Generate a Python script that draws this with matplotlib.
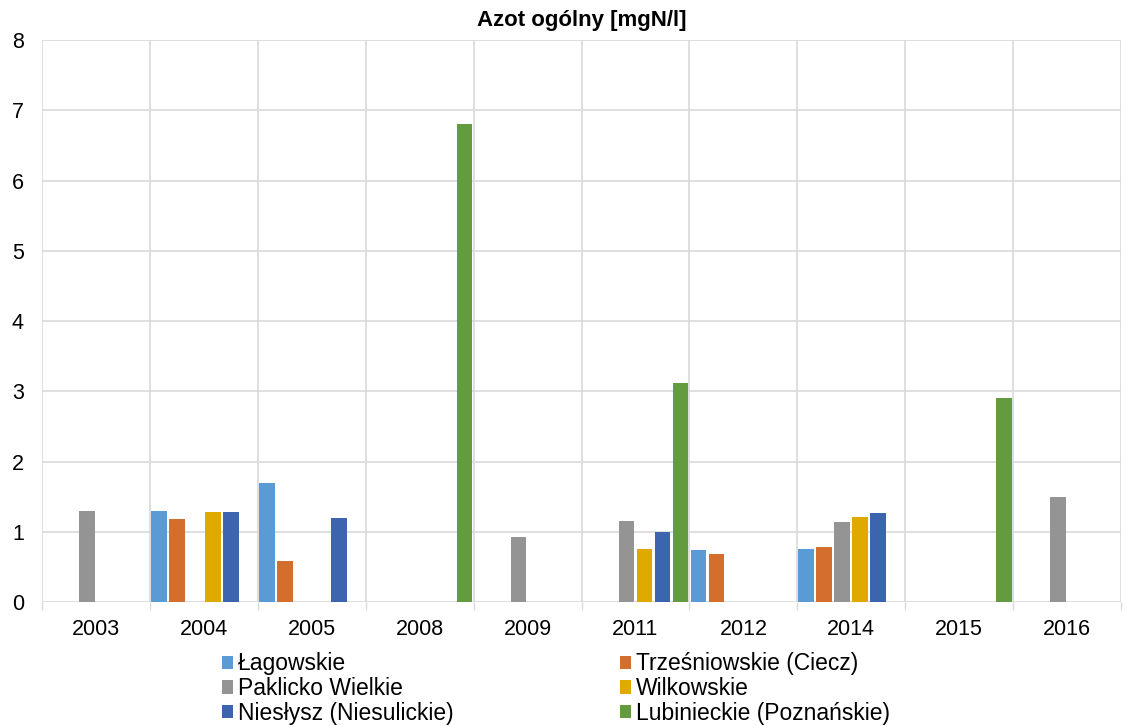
import numpy as np
import matplotlib.pyplot as plt

plt.rcParams['font.family'] = ['Liberation Sans', 'DejaVu Sans']

years = ['2003', '2004', '2005', '2008', '2009', '2011', '2012', '2014', '2015', '2016']
series_names = ['Łagowskie', 'Trześniowskie (Ciecz)', 'Paklicko Wielkie',
                'Wilkowskie', 'Niesłysz (Niesulickie)', 'Lubinieckie (Poznańskie)']

# NaN = no measurement
lagowskie = [np.nan, 1.30, 1.70, np.nan, np.nan, np.nan, 0.74, 0.75, np.nan, np.nan]
trzesniowskie = [np.nan, 1.18, 0.58, np.nan, np.nan, np.nan, 0.68, 0.79, np.nan, np.nan]
paklicko = [1.30, np.nan, np.nan, np.nan, 0.93, 1.16, np.nan, 1.14, np.nan, 1.49]
wilkowskie = [np.nan, 1.28, np.nan, np.nan, np.nan, 0.75, np.nan, 1.21, np.nan, np.nan]
nieslysz = [np.nan, 1.28, 1.19, np.nan, np.nan, 0.99, np.nan, 1.26, np.nan, np.nan]
lubinieckie = [np.nan, np.nan, np.nan, 6.80, np.nan, 3.12, np.nan, np.nan, 2.90, np.nan]

all_series = [lagowskie, trzesniowskie, paklicko, wilkowskie, nieslysz, lubinieckie]
colors = ['#5B9BD5', '#D36E2C', '#949494', '#E0A900', '#3D64AE', '#639B40']

fig = plt.figure(figsize=(11.27, 7.26), dpi=100)
ax = fig.add_axes([0.0373, 0.1708, 0.9574, 0.7741])

x = np.arange(len(years))
step = 1 / 6
handles = []
for i, (vals, name, col) in enumerate(zip(all_series, series_names, colors)):
    pos = x - 0.5 + (i + 0.5) * step
    b = ax.bar(pos, vals, width=0.145, color=col, label=name, zorder=3)
    handles.append(b)

ax.set_xlim(-0.5, len(years) - 0.5)
ax.set_ylim(0, 8)
ax.set_yticks(range(0, 9))
ax.set_xticks(x)
ax.set_xticklabels(years)
ax.set_xticks(np.arange(-0.5, len(years)), minor=True)

ax.tick_params(axis='both', which='major', length=0, labelsize=15.5)
ax.tick_params(axis='x', which='major', pad=12)
ax.tick_params(axis='y', which='major', pad=13)
ax.tick_params(axis='x', which='minor', length=6, color='#D9D9D9', width=1)
ax.grid(axis='y', which='major', color='#D9D9D9', linewidth=1.2, zorder=0)
ax.grid(axis='x', which='minor', color='#D9D9D9', linewidth=1.2, zorder=0)
for s in ax.spines.values():
    s.set_visible(False)

ax.set_title('Azot ogólny [mgN/l]', fontsize=16, fontweight='bold', pad=10)

# row-major legend order, as in the original
order = [0, 2, 4, 1, 3, 5]
ax.legend([handles[k] for k in order], [series_names[k] for k in order],
          loc='upper center', bbox_to_anchor=(0.476, -0.061), ncol=2, frameon=False,
          fontsize=16.5, handlelength=0.5, handleheight=0.5, handletextpad=0.2,
          columnspacing=7.25, labelspacing=0.08, borderaxespad=0.3)

fig.savefig('out.png', dpi=100)
